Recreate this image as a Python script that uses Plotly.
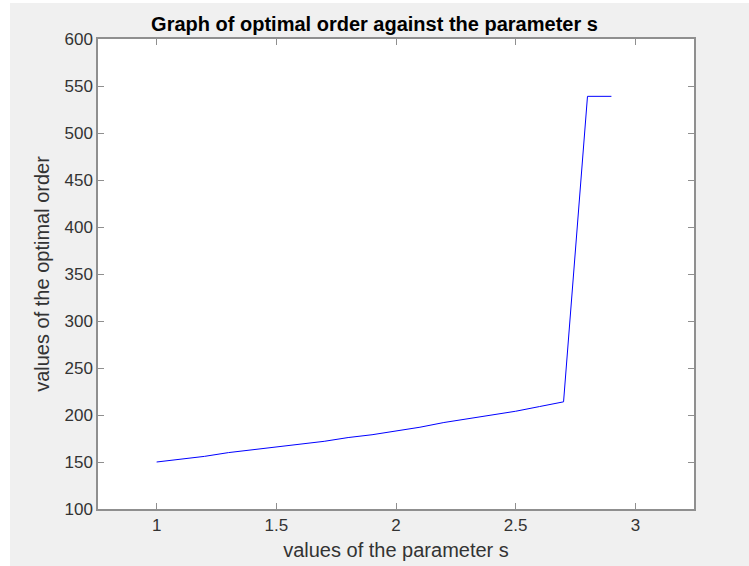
import plotly.graph_objects as go

s_values = [1.0, 1.1, 1.2, 1.3, 1.4, 1.5, 1.6, 1.7, 1.8, 1.9, 2.0,
            2.1, 2.2, 2.3, 2.4, 2.5, 2.6, 2.7, 2.8, 2.9]
optimal_order = [150, 153, 156, 160, 163, 166, 169, 172, 176, 179, 183,
                 187, 192, 196, 200, 204, 209, 214, 539, 539]

x_ticks = [1, 1.5, 2, 2.5, 3]
x_tick_text = ["1", "1.5", "2", "2.5", "3"]
y_ticks = [100, 150, 200, 250, 300, 350, 400, 450, 500, 550, 600]

font_family = "Liberation Sans, Arial, sans-serif"
axis_col = "#8f8f8f"
text_col = "#333333"

fig = go.Figure()
fig.add_trace(go.Scatter(x=s_values, y=optimal_order, mode="lines",
                         line=dict(color="#0000ff", width=1), showlegend=False))

axis_common = dict(
    showgrid=False, zeroline=False, showline=True, linecolor=axis_col, linewidth=1.5,
    mirror="ticks", ticks="inside", ticklen=6, tickcolor=axis_col, tickwidth=1,
    tickfont=dict(family=font_family, size=17, color=text_col), automargin=False,
)

fig.update_layout(
    width=749, height=566,
    margin=dict(l=98, r=55, t=39, b=57),
    paper_bgcolor="#f0f0f0", plot_bgcolor="#ffffff",
    title=dict(text="<b>Graph of optimal order against the parameter s</b>",
               x=0.5, xanchor="center", y=1 - 24 / 566, yanchor="middle",
               font=dict(family=font_family, size=20, color="#000000")),
    xaxis=dict(range=[0.755, 3.245], tickvals=x_ticks, ticktext=x_tick_text,
               title=dict(text="values of the parameter s", standoff=9,
                          font=dict(family=font_family, size=20, color=text_col)),
               **axis_common),
    yaxis=dict(range=[100, 600], tickvals=y_ticks,
               title=dict(text="values of the optimal order", standoff=9,
                          font=dict(family=font_family, size=20, color=text_col)),
               **axis_common),
    shapes=[
        dict(type="rect", xref="paper", yref="paper", layer="below",
             x0=-98 / 596, x1=-88 / 596, y0=-57 / 470, y1=(470 + 39) / 470,
             fillcolor="#ffffff", line=dict(width=0)),
        dict(type="rect", xref="paper", yref="paper", layer="below",
             x0=-98 / 596, x1=(596 + 55) / 596, y0=(470 + 36) / 470, y1=(470 + 39) / 470,
             fillcolor="#ffffff", line=dict(width=0)),
    ],
)

fig.write_html("out.html")
